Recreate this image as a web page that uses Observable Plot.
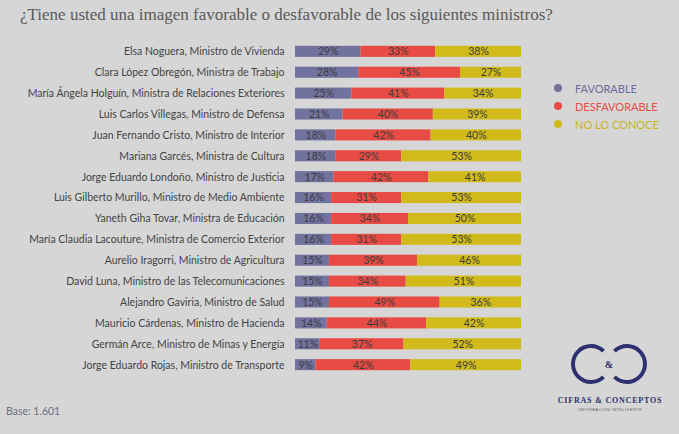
<!DOCTYPE html>
<html><head><meta charset="utf-8">
<script src="https://cdn.jsdelivr.net/npm/d3@7"></script>
<script src="https://cdn.jsdelivr.net/npm/@observablehq/plot@0.6"></script>
<style>
html,body{margin:0;padding:0;background:#d6d6d6;}
#wrap{position:relative;width:679px;height:434px;background:#d6d6d6;overflow:hidden;font-family:Lato,"Open Sans",sans-serif;}
#chart{position:absolute;left:0;top:0;}
.title{position:absolute;left:20px;top:5px;font-family:"Liberation Serif",serif;font-size:17px;color:#5a5a5a;white-space:nowrap;}
.base{position:absolute;left:6px;top:405px;font-size:10.5px;color:#6e6e80;}
.legend{position:absolute;left:554px;top:79px;font-size:11px;}
.legend div{height:18px;display:flex;align-items:center;}
.legend span.dot{display:inline-block;width:8px;height:8px;border-radius:50%;margin-right:13px;}
#logo{position:absolute;left:540px;top:330px;}
</style></head>
<body>
<div id="wrap">
  <div id="chart"></div>
  <div class="title">¿Tiene usted una imagen favorable o desfavorable de los siguientes ministros?</div>
  <div class="legend" id="legend"></div>
  <div class="base">Base: 1.601</div>
  <svg id="logo" width="139" height="100"></svg>
</div>
<script>
const names = [
  "Elsa Noguera, Ministro de Vivienda",
  "Clara López Obregón, Ministra de Trabajo",
  "María Ángela Holguín, Ministra de Relaciones Exteriores",
  "Luis Carlos Villegas, Ministro de Defensa",
  "Juan Fernando Cristo, Ministro de Interior",
  "Mariana Garcés, Ministra de Cultura",
  "Jorge Eduardo Londoño, Ministro de Justicia",
  "Luis Gilberto Murillo, Ministro de Medio Ambiente",
  "Yaneth Giha Tovar, Ministra de Educación",
  "María Claudia Lacouture, Ministra de Comercio Exterior",
  "Aurelio Iragorri, Ministro de Agricultura",
  "David Luna, Ministro de las Telecomunicaciones",
  "Alejandro Gaviria, Ministro de Salud",
  "Mauricio Cárdenas, Ministro de Hacienda",
  "Germán Arce, Ministro de Minas y Energía",
  "Jorge Eduardo Rojas, Ministro de Transporte"
];
const favorable    = [29,28,25,21,18,18,17,16,16,16,15,15,15,14,11,9];
const desfavorable = [33,45,41,40,42,29,42,31,34,31,39,34,49,44,37,42];
const noLoConoce   = [38,27,34,39,40,53,41,53,50,53,46,51,36,42,52,49];
const seriesNames  = ["FAVORABLE","DESFAVORABLE","NO LO CONOCE"];
const seriesColors = ["#72729f","#e84b43","#d0bb1b"];
const legendTextColors = ["#6c6c9c","#e84b43","#c8b51e"];

const data = [];
names.forEach((n,i)=>{
  data.push({name:n, series:seriesNames[0], value:favorable[i]});
  data.push({name:n, series:seriesNames[1], value:desfavorable[i]});
  data.push({name:n, series:seriesNames[2], value:noLoConoce[i]});
});

const chart = Plot.plot({
  width: 679,
  height: 434,
  marginLeft: 295,
  marginRight: 158,
  marginTop: 36,
  marginBottom: 54,
  style: {background: "transparent", fontFamily: "Lato, 'Open Sans', sans-serif"},
  x: {domain: [0,100], axis: null},
  y: {domain: names, padding: 0.47, round: false, label: null, tickSize: 0, tickPadding: 11},
  color: {domain: seriesNames, range: seriesColors},
  marks: [
    Plot.barX(data, Plot.stackX({x: "value", y: "name", fill: "series", order: seriesNames})),
    Plot.text(data, Plot.stackX({x: "value", y: "name", z: "series", order: seriesNames,
      text: d => d.value + "%", fill: "#3c3c3c", fontSize: 10.5}))
  ]
});
const yax = chart.querySelector("g[aria-label='y-axis tick label']");
if (yax) { yax.setAttribute("font-size","10.5"); yax.setAttribute("fill","#444"); }
document.getElementById("chart").appendChild(chart);

const leg = document.getElementById("legend");
seriesNames.forEach((s,i)=>{
  const d = document.createElement("div");
  d.innerHTML = `<span class="dot" style="background:${seriesColors[i]}"></span><span style="color:${legendTextColors[i]}">${s}</span>`;
  leg.appendChild(d);
});

// logo (decorative)
const logo = d3.select("#logo");
const navy = "#2d3170";
logo.append("path").attr("transform","translate(51,34)")
  .attr("d", d3.arc()({innerRadius:16, outerRadius:20, startAngle:Math.PI/2+0.8, endAngle:Math.PI/2+2*Math.PI-0.8}))
  .attr("fill", navy);
logo.append("path").attr("transform","translate(87,34)")
  .attr("d", d3.arc()({innerRadius:16, outerRadius:20, startAngle:-Math.PI/2+0.8, endAngle:3*Math.PI/2-0.8}))
  .attr("fill", navy);
logo.append("text").attr("x",69).attr("y",38).attr("text-anchor","middle")
  .attr("font-family","Liberation Serif, serif").attr("font-weight","bold").attr("font-size",10).attr("fill",navy).text("&");
logo.append("text").attr("x",70).attr("y",73).attr("text-anchor","middle")
  .attr("font-family","Liberation Serif, serif").attr("font-weight","bold").attr("font-size",8).attr("letter-spacing",0.8).attr("fill",navy).text("CIFRAS & CONCEPTOS");
logo.append("text").attr("x",70).attr("y",81).attr("text-anchor","middle")
  .attr("font-family","Liberation Sans, sans-serif").attr("font-size",3.6).attr("letter-spacing",0.6).attr("fill","#555").text("INFORMACIÓN INTELIGENTE");
</script>
</body></html>
